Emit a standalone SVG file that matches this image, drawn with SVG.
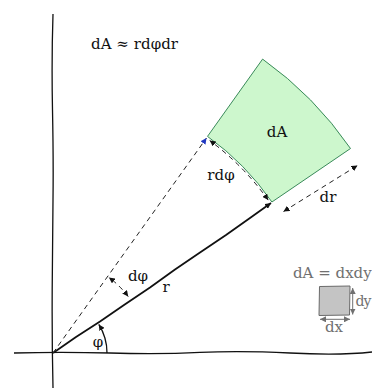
<svg xmlns="http://www.w3.org/2000/svg" width="372" height="388" viewBox="0 0 372 388">
<defs>
<marker id="ah" markerUnits="userSpaceOnUse" markerWidth="7" markerHeight="6" refX="6" refY="3" orient="auto-start-reverse"><path d="M0,0 L6,3 L0,6 z" fill="#111"/></marker>
<marker id="ahb" markerUnits="userSpaceOnUse" markerWidth="7" markerHeight="6" refX="6" refY="3" orient="auto-start-reverse"><path d="M0,0 L6,3 L0,6 z" fill="#2038c0"/></marker>
<marker id="ahg" markerUnits="userSpaceOnUse" markerWidth="7" markerHeight="6" refX="6" refY="3" orient="auto-start-reverse"><path d="M0,0 L6,3 L0,6 z" fill="#707070"/></marker>
</defs>
<style>
.ax{fill:none;stroke:#111;stroke-width:1.3}
.ray{fill:none;stroke:#111;stroke-width:1.8}
.dash{fill:none;stroke:#222;stroke-width:1;stroke-dasharray:5 4}
.t{font-family:"DejaVu Serif","Liberation Serif",serif;font-size:15px;fill:#111}
.g{fill:#707070}
</style>
<rect width="372" height="388" fill="#fff"/>
<g id="axes">
<path class="ax" d="M53,14 Q51.5,60 52.5,110 T53,200 T52.2,290 T53,388"/>
<path class="ax" d="M14,353 Q60,351.6 110,353 T200,352.4 T290,353 T372,352"/>
</g>
<g id="region-dA">
<path d="M271.9,202 L350.5,148.5 A361,361 0 0 0 262.6,59.1 L207.5,136.4 A266,266 0 0 1 271.9,202 Z" fill="#cdf7cd" stroke="#3a8a5a" stroke-width="1"/>
<text class="t" x="277" y="137" text-anchor="middle">dA</text>
</g>
<g id="connectors">
<path class="ray" d="M53,353 L76,337 L100,321.5 L124,305 L150,287.5 L175,269.5 L200,252.5 L226,235 L250,218 L271,203" stroke-linejoin="round" marker-end="url(#ah)"/>
<path class="dash" d="M53,353 L206.5,138" marker-end="url(#ahb)"/>
<path class="dash" d="M268.2,200.1 A264,264 0 0 0 209.7,140.5" marker-start="url(#ah)" marker-end="url(#ah)"/>
<path class="dash" d="M283.5,211.5 L357.5,165.5" marker-start="url(#ah)" marker-end="url(#ah)"/>
<path class="dash" d="M128.2,296.6 A94,94 0 0 0 108.9,277.4" marker-start="url(#ah)" marker-end="url(#ah)"/>
<path class="ax" d="M107,353 A54,54 0 0 0 98.8,324.4" marker-end="url(#ah)"/>
</g>
<g id="labels">
<text class="t" x="91" y="49" textLength="87">dA ≈ rdφdr</text>
<text class="t" x="221" y="180" text-anchor="middle">rdφ</text>
<text class="t" x="328" y="202" text-anchor="middle">dr</text>
<text class="t" x="138" y="281" text-anchor="middle">dφ</text>
<text class="t" x="166" y="292" text-anchor="middle">r</text>
<text class="t" x="98" y="347" text-anchor="middle">φ</text>
</g>
<g id="inset">
<text class="t g" x="293" y="278">dA = dxdy</text>
<path d="M319.5,286.5 L350,286 L349.5,315 L319,315.5 Z" fill="#c4c4c4" stroke="#6a6a6a" stroke-width="1"/>
<path d="M352.7,288 L352.7,314.5" fill="none" stroke="#707070" stroke-width="1" marker-start="url(#ahg)" marker-end="url(#ahg)"/>
<path d="M320,319.3 L350,319.3" fill="none" stroke="#707070" stroke-width="1" marker-start="url(#ahg)" marker-end="url(#ahg)"/>
<text class="t g" x="355.5" y="306" style="font-size:14px" textLength="16">dy</text>
<text class="t g" x="334" y="332" text-anchor="middle">dx</text>
</g>
</svg>
